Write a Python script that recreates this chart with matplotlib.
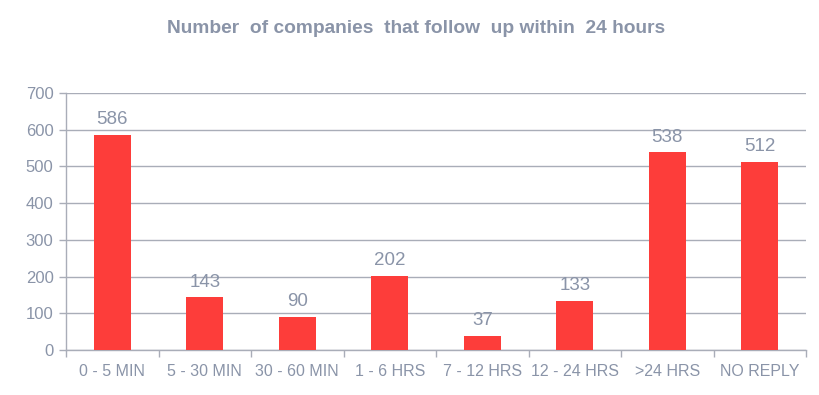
import matplotlib
matplotlib.use("Agg")
import matplotlib.pyplot as plt
import numpy as np

categories = ["0 - 5 MIN", "5 - 30 MIN", "30 - 60 MIN", "1 - 6 HRS",
              "7 - 12 HRS", "12 - 24 HRS", ">24 HRS", "NO REPLY"]
counts = [586, 143, 90, 202, 37, 133, 538, 512]
yticks = [0, 100, 200, 300, 400, 500, 600, 700]

plt.rcParams["font.family"] = ["Liberation Sans", "DejaVu Sans"]
txt = "#8a94a8"
line = "#a9adb8"

fig = plt.figure(figsize=(8.2, 3.95), dpi=100)
ax = fig.add_axes([0.0805, 0.114, 0.9025, 0.6506])
x = np.arange(len(categories))
bars = ax.bar(x, counts, width=0.4, color="#fd3d3a", zorder=3)
for b, v in zip(bars, counts):
    ax.annotate(str(v), (b.get_x() + b.get_width() / 2, v), xytext=(0, 5),
                textcoords="offset points", ha="center", va="bottom",
                color=txt, fontsize=13.5)

ax.set_xlim(-0.5, len(categories) - 0.5)
ax.set_ylim(0, 700)
ax.set_yticks(yticks)
ax.tick_params(axis="y", colors=line, labelcolor=txt, labelsize=12, length=5, width=1, pad=4)
ax.set_xticks(x)
ax.set_xticklabels(categories)
ax.set_xticks(np.arange(len(categories) + 1) - 0.5, minor=True)
ax.tick_params(axis="x", which="major", length=0, labelcolor=txt, labelsize=11.5, pad=10)
ax.tick_params(axis="x", which="minor", length=5, color=line, width=1)
ax.grid(axis="y", color=line, lw=1, zorder=0)
for s in ["top", "right"]:
    ax.spines[s].set_visible(False)
for s in ["left", "bottom"]:
    ax.spines[s].set_color(line)
    ax.spines[s].set_linewidth(1)

fig.text(0.507, 0.927, "Number  of companies  that follow  up within  24 hours", ha="center",
         va="center", color=txt, fontsize=13.8, fontweight="bold")
fig.savefig("out.png", dpi=100, facecolor="white")
